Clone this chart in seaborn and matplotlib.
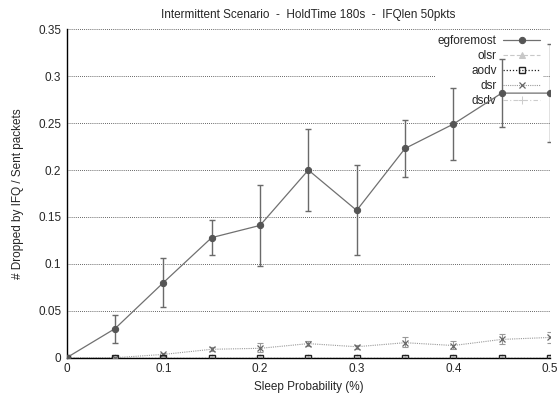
import matplotlib
matplotlib.use("Agg")
import matplotlib.pyplot as plt
import seaborn as sns
import pandas as pd
import numpy as np

sleep_prob = [0, 0.05, 0.1, 0.15, 0.2, 0.25, 0.3, 0.35, 0.4, 0.45, 0.5]
egforemost = [0, 0.031, 0.080, 0.128, 0.141, 0.200, 0.157, 0.223, 0.249, 0.282, 0.282]
egforemost_lo = [0, 0.016, 0.054, 0.109, 0.098, 0.156, 0.109, 0.193, 0.211, 0.246, 0.230]
egforemost_hi = [0, 0.046, 0.106, 0.147, 0.184, 0.244, 0.205, 0.253, 0.287, 0.318, 0.334]
olsr = [0, 0, 0, 0, 0, 0, 0, 0, 0, 0, 0]
aodv = [0, 0, 0, 0, 0, 0, 0, 0, 0, 0, 0]
dsr = [0, 0, 0.0035, 0.009, 0.010, 0.015, 0.0117, 0.016, 0.013, 0.0195, 0.0216]
dsr_lo = [0, 0, 0.002, 0.007, 0.006, 0.012, 0.009, 0.011, 0.009, 0.015, 0.016]
dsr_hi = [0, 0, 0.005, 0.011, 0.016, 0.018, 0.014, 0.022, 0.018, 0.025, 0.027]
dsdv = [0, 0, 0, 0, 0, 0, 0, 0, 0, 0, 0]

title = "Intermittent Scenario  -  HoldTime 180s  -  IFQlen 50pkts"
xlabel = "Sleep Probability (%)"
ylabel = "# Dropped by IFQ / Sent packets"
yticks = [0, 0.05, 0.1, 0.15, 0.2, 0.25, 0.3, 0.35]
xticks = [0, 0.1, 0.2, 0.3, 0.4, 0.5]

sns.set_style("white")
plt.rcParams['font.family'] = ['Liberation Sans', 'DejaVu Sans']
plt.rcParams['font.size'] = 8.5

fig = plt.figure(figsize=(5.58, 3.94), dpi=100)
ax = fig.add_axes([0.1195, 0.0921, 0.8662, 0.8335])

df = pd.DataFrame({"x": sleep_prob, "egforemost": egforemost, "olsr": olsr,
                   "aodv": aodv, "dsr": dsr, "dsdv": dsdv})

# error bars
ax.errorbar(sleep_prob, egforemost,
            yerr=[np.array(egforemost) - np.array(egforemost_lo),
                  np.array(egforemost_hi) - np.array(egforemost)],
            fmt='none', ecolor='#6a6a6a', elinewidth=1.0, capsize=2.5, capthick=1.0, zorder=3)
ax.errorbar(sleep_prob, dsr,
            yerr=[np.array(dsr) - np.array(dsr_lo), np.array(dsr_hi) - np.array(dsr)],
            fmt='none', ecolor='#999999', elinewidth=0.8, capsize=2, capthick=0.8,
            linestyle=':', zorder=3)

sns.lineplot(data=df, x="x", y="egforemost", ax=ax, color='#707070', lw=0.9,
             marker='o', markersize=4.5, markerfacecolor='#555555', markeredgecolor='#555555',
             label="egforemost", zorder=5)
sns.lineplot(data=df, x="x", y="olsr", ax=ax, color='#c8c8c8', lw=0.8, linestyle=(0, (4, 2)),
             marker='^', markersize=5, markerfacecolor='#c8c8c8', markeredgecolor='#c8c8c8',
             label="olsr", zorder=2)
sns.lineplot(data=df, x="x", y="aodv", ax=ax, color='#222222', lw=0.9, linestyle=(0, (1, 1.5)),
             marker='s', markersize=5, markerfacecolor='none', markeredgecolor='#222222',
             markeredgewidth=1.0, label="aodv", zorder=4)
sns.lineplot(data=df, x="x", y="dsr", ax=ax, color='#999999', lw=0.8, linestyle=(0, (1, 1)),
             marker='x', markersize=5, markeredgecolor='#666666', markeredgewidth=0.9,
             label="dsr", zorder=3)
sns.lineplot(data=df, x="x", y="dsdv", ax=ax, color='#cccccc', lw=0.8, linestyle=(0, (4, 2, 1, 2)),
             marker='+', markersize=6, markeredgecolor='#cccccc',
             label="dsdv", zorder=1)

ax.set_xlim(0, 0.5)
ax.set_ylim(0, 0.35)
ax.set_xticks(xticks)
ax.set_xticklabels([f"{t:g}" for t in xticks])
ax.set_yticks(yticks)
ax.set_yticklabels([f"{t:g}" for t in yticks])
ax.yaxis.grid(True, linestyle=(0, (1, 1.5)), color='#333333', linewidth=0.6, zorder=0.5)
ax.xaxis.grid(False)
ax.set_axisbelow(True)
for s in ['top', 'right']:
    ax.spines[s].set_visible(False)
for s in ['left', 'bottom']:
    ax.spines[s].set_color('black')
    ax.spines[s].set_linewidth(1.0)
ax.tick_params(axis='both', direction='in', length=4, width=0.8, labelsize=8.5, pad=4)
ax.tick_params(axis='x', length=0, pad=4)

ax.set_title(title, fontsize=8.5, pad=8)
ax.set_xlabel(xlabel, fontsize=8.5, labelpad=4)
ax.set_ylabel(ylabel, fontsize=8.5, labelpad=10)

leg = ax.legend(loc='upper right', bbox_to_anchor=(0.985, 0.99), frameon=True,
                markerfirst=False, fontsize=8.5, handlelength=3.2, labelspacing=0.25,
                handletextpad=0.5, borderaxespad=0, borderpad=0.2)
frame = leg.get_frame()
frame.set_facecolor('white')
frame.set_edgecolor('none')
frame.set_alpha(1.0)
leg.set_zorder(2.5)
for t in leg.get_texts():
    t.set_ha('right')

fig.savefig("out.png", dpi=100)
